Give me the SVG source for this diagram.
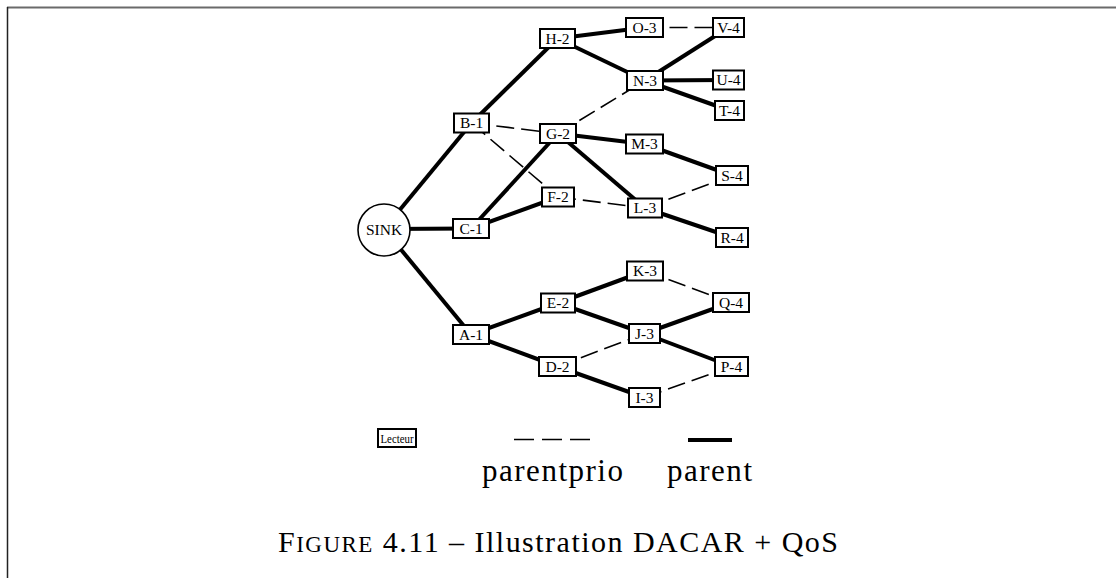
<svg xmlns="http://www.w3.org/2000/svg" width="1116" height="578" viewBox="0 0 1116 578">
<style>
.p{stroke:#000;stroke-width:4;fill:none;stroke-linecap:butt}
.d{stroke:#000;stroke-width:1.6;fill:none;stroke-dasharray:18 7}
.n rect{fill:#fff;stroke:#000;stroke-width:2}
.n circle{fill:#fff;stroke:#000;stroke-width:1.6}
.n text{font-family:"Liberation Serif","Times New Roman",serif;font-size:15.5px;text-anchor:middle;fill:#000}
.t{font-family:"Liberation Serif","Times New Roman",serif;fill:#000}
</style>
<rect width="1116" height="578" fill="#fff"/>
<g id="frame">
<line x1="7" y1="7.5" x2="1116" y2="7.5" stroke="#6a6a6a" stroke-width="2"/>
<line x1="7.5" y1="7" x2="7.5" y2="578" stroke="#222" stroke-width="1.5"/>
</g>
<g id="connectors">
<line class="p" x1="384" y1="229" x2="471.5" y2="123"/>
<line class="p" x1="384" y1="229" x2="471" y2="228.5"/>
<line class="p" x1="384" y1="229" x2="471" y2="334.5"/>
<line class="p" x1="471.5" y1="123" x2="557.5" y2="38.5"/>
<line class="p" x1="557.5" y1="38.5" x2="644.5" y2="27.5"/>
<line class="p" x1="557.5" y1="38.5" x2="645" y2="80.5"/>
<line class="p" x1="645" y1="80.5" x2="728.5" y2="27.5"/>
<line class="p" x1="645" y1="80.5" x2="728.5" y2="80"/>
<line class="p" x1="645" y1="80.5" x2="729.5" y2="110.5"/>
<line class="p" x1="471" y1="228.5" x2="558" y2="133.5"/>
<line class="p" x1="471" y1="228.5" x2="558" y2="197"/>
<line class="p" x1="558" y1="133.5" x2="644.5" y2="144"/>
<line class="p" x1="558" y1="133.5" x2="645" y2="208"/>
<line class="p" x1="644.5" y1="144" x2="732" y2="175.5"/>
<line class="p" x1="645" y1="208" x2="732" y2="237.5"/>
<line class="p" x1="471" y1="334.5" x2="558" y2="303"/>
<line class="p" x1="471" y1="334.5" x2="557.5" y2="366.5"/>
<line class="p" x1="558" y1="303" x2="645" y2="271"/>
<line class="p" x1="558" y1="303" x2="644.5" y2="333.5"/>
<line class="p" x1="644.5" y1="333.5" x2="731" y2="302.5"/>
<line class="p" x1="644.5" y1="333.5" x2="731.5" y2="366.5"/>
<line class="p" x1="557.5" y1="366.5" x2="644.5" y2="397.5"/>
<line class="d" x1="644.5" y1="27.5" x2="728.5" y2="27.5"/>
<line class="d" x1="471.5" y1="123" x2="558" y2="133.5"/>
<line class="d" x1="471.5" y1="123" x2="558" y2="197"/>
<line class="d" x1="558" y1="133.5" x2="645" y2="80.5"/>
<line class="d" x1="558" y1="197" x2="645" y2="208"/>
<line class="d" x1="645" y1="208" x2="732" y2="175.5"/>
<line class="d" x1="645" y1="271" x2="731" y2="302.5"/>
<line class="d" x1="557.5" y1="366.5" x2="644.5" y2="333.5"/>
<line class="d" x1="644.5" y1="397.5" x2="731.5" y2="366.5"/>
</g>
<g id="SINK" class="n"><circle cx="384" cy="230" r="26"/><text x="384" y="235">SINK</text></g>
<g id="H-2" class="n"><rect x="540" y="29" width="35" height="19"/><text x="557.5" y="43.5">H-2</text></g>
<g id="O-3" class="n"><rect x="626" y="18" width="37" height="19"/><text x="644.5" y="32.5">O-3</text></g>
<g id="V-4" class="n"><rect x="713" y="18" width="31" height="19"/><text x="728.5" y="32.5">V-4</text></g>
<g id="N-3" class="n"><rect x="627" y="71" width="36" height="19"/><text x="645" y="85.5">N-3</text></g>
<g id="U-4" class="n"><rect x="713" y="70.5" width="31" height="19"/><text x="728.5" y="85">U-4</text></g>
<g id="T-4" class="n"><rect x="715" y="101" width="29" height="19"/><text x="729.5" y="115.5">T-4</text></g>
<g id="B-1" class="n"><rect x="454" y="113.5" width="35" height="19"/><text x="471.5" y="128">B-1</text></g>
<g id="G-2" class="n"><rect x="540" y="124" width="36" height="19"/><text x="558" y="138.5">G-2</text></g>
<g id="M-3" class="n"><rect x="626" y="134.5" width="37" height="19"/><text x="644.5" y="149">M-3</text></g>
<g id="S-4" class="n"><rect x="716" y="166" width="32" height="19"/><text x="732" y="180.5">S-4</text></g>
<g id="F-2" class="n"><rect x="542" y="187.5" width="32" height="19"/><text x="558" y="202">F-2</text></g>
<g id="L-3" class="n"><rect x="628" y="198.5" width="34" height="19"/><text x="645" y="213">L-3</text></g>
<g id="R-4" class="n"><rect x="716" y="228" width="32" height="19"/><text x="732" y="242.5">R-4</text></g>
<g id="C-1" class="n"><rect x="453" y="219" width="36" height="19"/><text x="471" y="233.5">C-1</text></g>
<g id="K-3" class="n"><rect x="627" y="261.5" width="36" height="19"/><text x="645" y="276">K-3</text></g>
<g id="E-2" class="n"><rect x="541" y="293.5" width="34" height="19"/><text x="558" y="308">E-2</text></g>
<g id="Q-4" class="n"><rect x="713" y="293" width="36" height="19"/><text x="731" y="307.5">Q-4</text></g>
<g id="A-1" class="n"><rect x="453" y="325" width="36" height="19"/><text x="471" y="339.5">A-1</text></g>
<g id="J-3" class="n"><rect x="629" y="324" width="31" height="19"/><text x="644.5" y="338.5">J-3</text></g>
<g id="D-2" class="n"><rect x="539" y="357" width="37" height="19"/><text x="557.5" y="371.5">D-2</text></g>
<g id="P-4" class="n"><rect x="715" y="357" width="33" height="19"/><text x="731.5" y="371.5">P-4</text></g>
<g id="I-3" class="n"><rect x="629" y="388" width="31" height="19"/><text x="644.5" y="402.5">I-3</text></g>
<g id="legend">
<g id="Lecteur" class="n"><rect x="378" y="429" width="38" height="18" stroke-width="1.6"/><text x="397" y="442.5" style="font-size:12.5px" textLength="33" lengthAdjust="spacingAndGlyphs">Lecteur</text></g>
<line x1="514" y1="439.5" x2="590" y2="439.5" stroke="#000" stroke-width="1.6" stroke-dasharray="20 8"/>
<line x1="688" y1="440" x2="732" y2="440" stroke="#000" stroke-width="4"/>
<text class="t" x="482" y="481" font-size="31" textLength="141" lengthAdjust="spacing">parentprio</text>
<text class="t" x="667" y="481" font-size="31" textLength="85" lengthAdjust="spacing">parent</text>
</g>
<text id="caption" class="t" x="278" y="552" font-size="30" textLength="560" lengthAdjust="spacing">F<tspan font-size="23">IGURE</tspan> 4.11 – Illustration DACAR + QoS</text>
</svg>
